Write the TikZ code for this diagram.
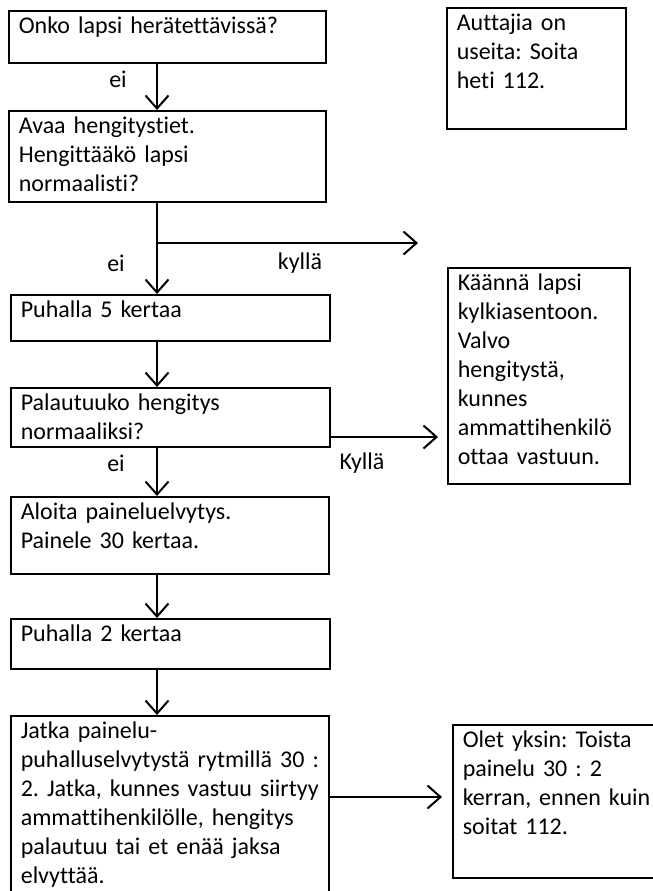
\documentclass[tikz,border=0pt]{standalone}
\usepackage{fontspec}
\setmainfont{Carlito}[Ligatures={NoCommon}]
\usetikzlibrary{arrows.meta}
\tikzset{
  stepbox/.style={draw, line width=0.8pt, anchor=north west, align=left,
    inner xsep=5pt, inner ysep=0pt, text height=11.5pt},
  flow/.style={line width=1pt, -{Straight Barb[length=6.5pt,width=11.5pt,line width=1pt]}},
  lbl/.style={inner sep=0pt}
}
\begin{document}
\begin{tikzpicture}[x=0.5pt, y=-0.5pt, font={\fontsize{12}{14.5}\selectfont\frenchspacing}]
			\useasboundingbox (0,0) rectangle (653,891);
			% left column
			\node[stepbox, text width=148.5pt, text depth=14.5pt] (b1) at (8,10) {Onko lapsi herätettävissä?};
			\node[stepbox, text width=148.5pt, text depth=34pt] (b2) at (8,110) {Avaa hengitystiet.\\ Hengittääkö lapsi\\ normaalisti?};
			\node[stepbox, text width=149.5pt, text depth=11.5pt] (b3) at (10,294) {Puhalla 5 kertaa};
			\node[stepbox, text width=149.5pt, text depth=18pt] (b4) at (10,387) {Palautuuko hengitys\\ normaaliksi?};
			\node[stepbox, text width=149pt, text depth=27pt] (b5) at (10,496) {Aloita paineluelvytys.\\ Painele 30 kertaa.};
			\node[stepbox, text width=149.5pt, text depth=13.5pt] (b6) at (10,618) {Puhalla 2 kertaa};
			\node[stepbox, text width=149pt, text depth=77pt] (b7) at (10,715) {\mbox{Jatka painelu-}\\ \mbox{puhalluselvytystä rytmillä 30 :}\\ \mbox{2. Jatka, kunnes vastuu siirtyy}\\ \mbox{ammattihenkilölle, hengitys}\\ \mbox{palautuu tai et enää jaksa}\\ elvyttää.};
			% right column
			\node[stepbox, text width=79.5pt, text depth=49pt] (helpers) at (446,7) {Auttajia on\\ useita: Soita\\ heti 112.};
			\node[stepbox, text width=81pt, text depth=96.5pt] (turn) at (447,267) {Käännä lapsi\\ kylkiasentoon.\\ Valvo\\ hengitystä,\\ kunnes\\ ammattihenkilö\\ ottaa vastuun.};
			\node[stepbox, text width=96.5pt, text depth=65pt] (alone) at (452,724) {Olet yksin: Toista\\ painelu 30 : 2\\ kerran, ennen kuin\\ soitat 112.};
			% connectors
			\coordinate (spine) at (157,0);
			\coordinate (fork) at (157,243);
			\coordinate (yesend) at (418,243);
			\coordinate (turnend) at (438,437);
			\coordinate (aloneend) at (442,797);
			\draw[flow] (b1.south -| spine) -- (b2.north -| spine);
			\draw[flow] (b2.south -| spine) -- (b3.north -| spine);
			\draw[flow] (fork) -- (yesend);
			\draw[flow] (b3.south -| spine) -- (b4.north -| spine);
			\draw[flow] (b4.south -| spine) -- (b5.north -| spine);
			\draw[flow] (b4.east |- turnend) -- (turnend);
			\draw[flow] (b5.south -| spine) -- (b6.north -| spine);
			\draw[flow] (b6.south -| spine) -- (b7.north -| spine);
			\draw[flow] (b7.east |- aloneend) -- (aloneend);
			% labels
			\node[lbl] (no1) at (118,79) {ei};
			\node[lbl] (no2) at (116,263) {ei};
			\node[lbl] (yes1) at (300,263) {kyllä};
			\node[lbl] (no3) at (116,463) {ei};
			\node[lbl] (yes2) at (362,463) {Kyllä};
		\end{tikzpicture}
\end{document}
